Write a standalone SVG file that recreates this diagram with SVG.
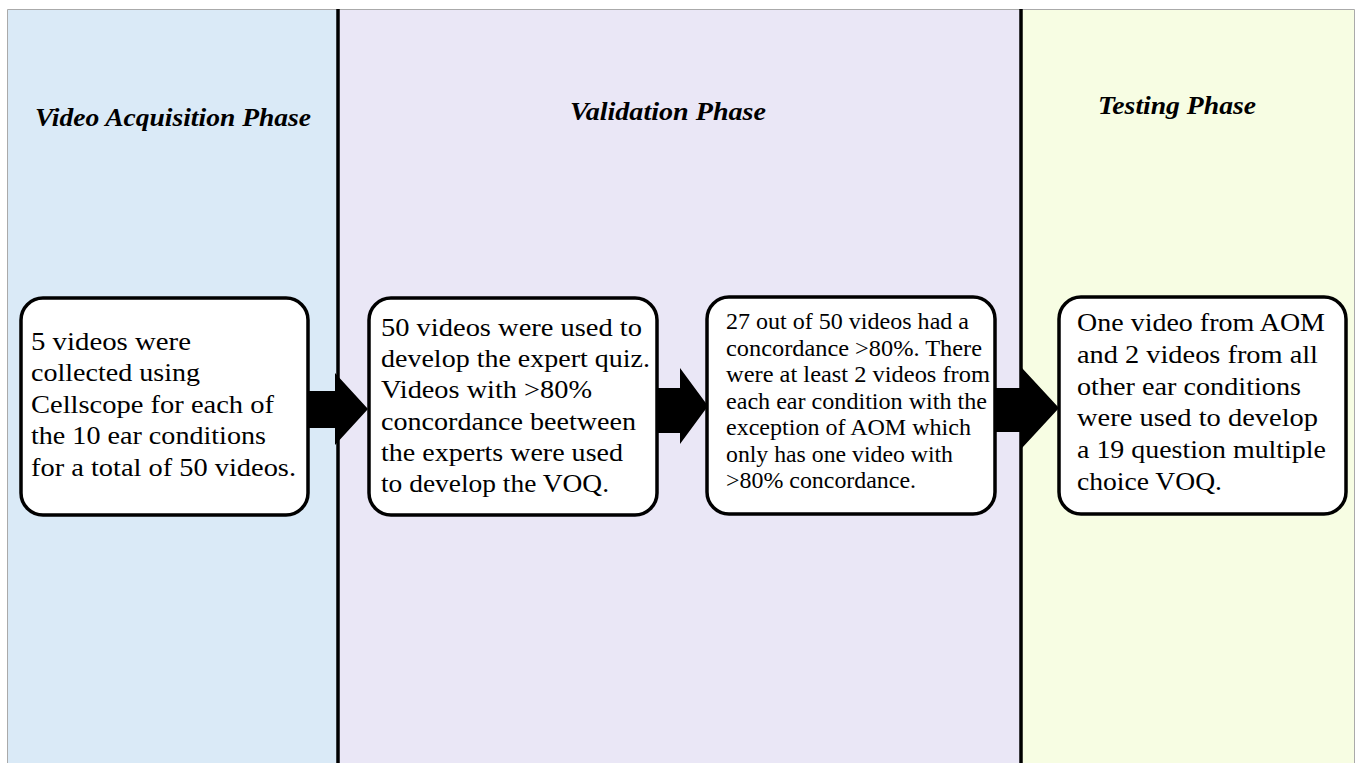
<svg xmlns="http://www.w3.org/2000/svg" width="1356" height="763" viewBox="0 0 1356 763">
<defs>
<style>
.lane{stroke:none}
.title{font-family:"Liberation Serif",serif;font-weight:bold;font-style:italic;font-size:25px;fill:#000}
.box{fill:#fff;stroke:#000;stroke-width:3.5}
.t{font-family:"Liberation Serif",serif;font-size:26px;fill:#000}
.s{font-family:"Liberation Serif",serif;font-size:22.5px;fill:#000}
.arrow{fill:#000;stroke:none}
.div{stroke:#000;stroke-width:3.5}
</style>
</defs>
<rect width="1356" height="763" fill="#fff"/>
<g id="lanes">
<rect class="lane" x="7.5" y="9.5" width="330" height="760" fill="#DAEAF7"/>
<rect class="lane" x="337.5" y="9.5" width="683" height="760" fill="#EAE7F6"/>
<rect class="lane" x="1020.5" y="9.5" width="334" height="760" fill="#F7FDE3"/>
<path d="M7.5 763V9.5H1354.5V763" fill="none" stroke="#aaa" stroke-width="1"/>
<line class="div" x1="338" y1="9" x2="338" y2="763"/>
<line class="div" x1="1021" y1="9" x2="1021" y2="763"/>
<text class="title" x="35" y="126" textLength="276" lengthAdjust="spacingAndGlyphs">Video Acquisition Phase</text>
<text class="title" x="570" y="120" textLength="196" lengthAdjust="spacingAndGlyphs">Validation Phase</text>
<text class="title" x="1098" y="114" textLength="158" lengthAdjust="spacingAndGlyphs">Testing Phase</text>
</g>
<g id="connectors">
<polygon class="arrow" points="304,391 335,391 335,373 368,409 335,445 335,428 304,428"/>
<polygon class="arrow" points="654,388 680,388 680,368 708,406 680,444 680,433 654,433"/>
<polygon class="arrow" points="992,388 1022,388 1022,368 1059,408 1022,448 1022,432 992,432"/>
</g>
<g id="node1">
<rect class="box" x="21" y="298" width="287" height="217" rx="22"/>
<text class="t" x="31" y="350" textLength="160" lengthAdjust="spacingAndGlyphs">5 videos were</text>
<text class="t" x="31" y="381" textLength="169" lengthAdjust="spacingAndGlyphs">collected using</text>
<text class="t" x="31" y="413" textLength="243" lengthAdjust="spacingAndGlyphs">Cellscope for each of</text>
<text class="t" x="31" y="444" textLength="235" lengthAdjust="spacingAndGlyphs">the 10 ear conditions</text>
<text class="t" x="31" y="476" textLength="265" lengthAdjust="spacingAndGlyphs">for a total of 50 videos.</text>
</g>
<g id="node2">
<rect class="box" x="369" y="298" width="288" height="217" rx="22"/>
<text class="t" x="381" y="336" textLength="261" lengthAdjust="spacingAndGlyphs">50 videos were used to</text>
<text class="t" x="381" y="367" textLength="269" lengthAdjust="spacingAndGlyphs">develop the expert quiz.</text>
<text class="t" x="381" y="398" textLength="211" lengthAdjust="spacingAndGlyphs">Videos with &gt;80%</text>
<text class="t" x="381" y="430" textLength="255" lengthAdjust="spacingAndGlyphs">concordance beetween</text>
<text class="t" x="381" y="461" textLength="242" lengthAdjust="spacingAndGlyphs">the experts were used</text>
<text class="t" x="381" y="492" textLength="228" lengthAdjust="spacingAndGlyphs">to develop the VOQ.</text>
</g>
<g id="node3">
<rect class="box" x="707" y="297" width="288" height="217" rx="22"/>
<text class="s" x="726" y="329" textLength="243" lengthAdjust="spacingAndGlyphs">27 out of 50 videos had a</text>
<text class="s" x="726" y="356" textLength="256" lengthAdjust="spacingAndGlyphs">concordance &gt;80%. There</text>
<text class="s" x="726" y="382" textLength="264" lengthAdjust="spacingAndGlyphs">were at least 2 videos from</text>
<text class="s" x="726" y="409" textLength="261" lengthAdjust="spacingAndGlyphs">each ear condition with the</text>
<text class="s" x="726" y="435" textLength="245" lengthAdjust="spacingAndGlyphs">exception of AOM which</text>
<text class="s" x="726" y="462" textLength="227" lengthAdjust="spacingAndGlyphs">only has one video with</text>
<text class="s" x="726" y="488" textLength="190" lengthAdjust="spacingAndGlyphs">&gt;80% concordance.</text>
</g>
<g id="node4">
<rect class="box" x="1059" y="297" width="287" height="217" rx="22"/>
<text class="t" x="1077" y="331" textLength="248" lengthAdjust="spacingAndGlyphs">One video from AOM</text>
<text class="t" x="1077" y="363" textLength="241" lengthAdjust="spacingAndGlyphs">and 2 videos from all</text>
<text class="t" x="1077" y="395" textLength="224" lengthAdjust="spacingAndGlyphs">other ear conditions</text>
<text class="t" x="1077" y="426" textLength="241" lengthAdjust="spacingAndGlyphs">were used to develop</text>
<text class="t" x="1077" y="458" textLength="249" lengthAdjust="spacingAndGlyphs">a 19 question multiple</text>
<text class="t" x="1077" y="490" textLength="145" lengthAdjust="spacingAndGlyphs">choice VOQ.</text>
</g>
</svg>
